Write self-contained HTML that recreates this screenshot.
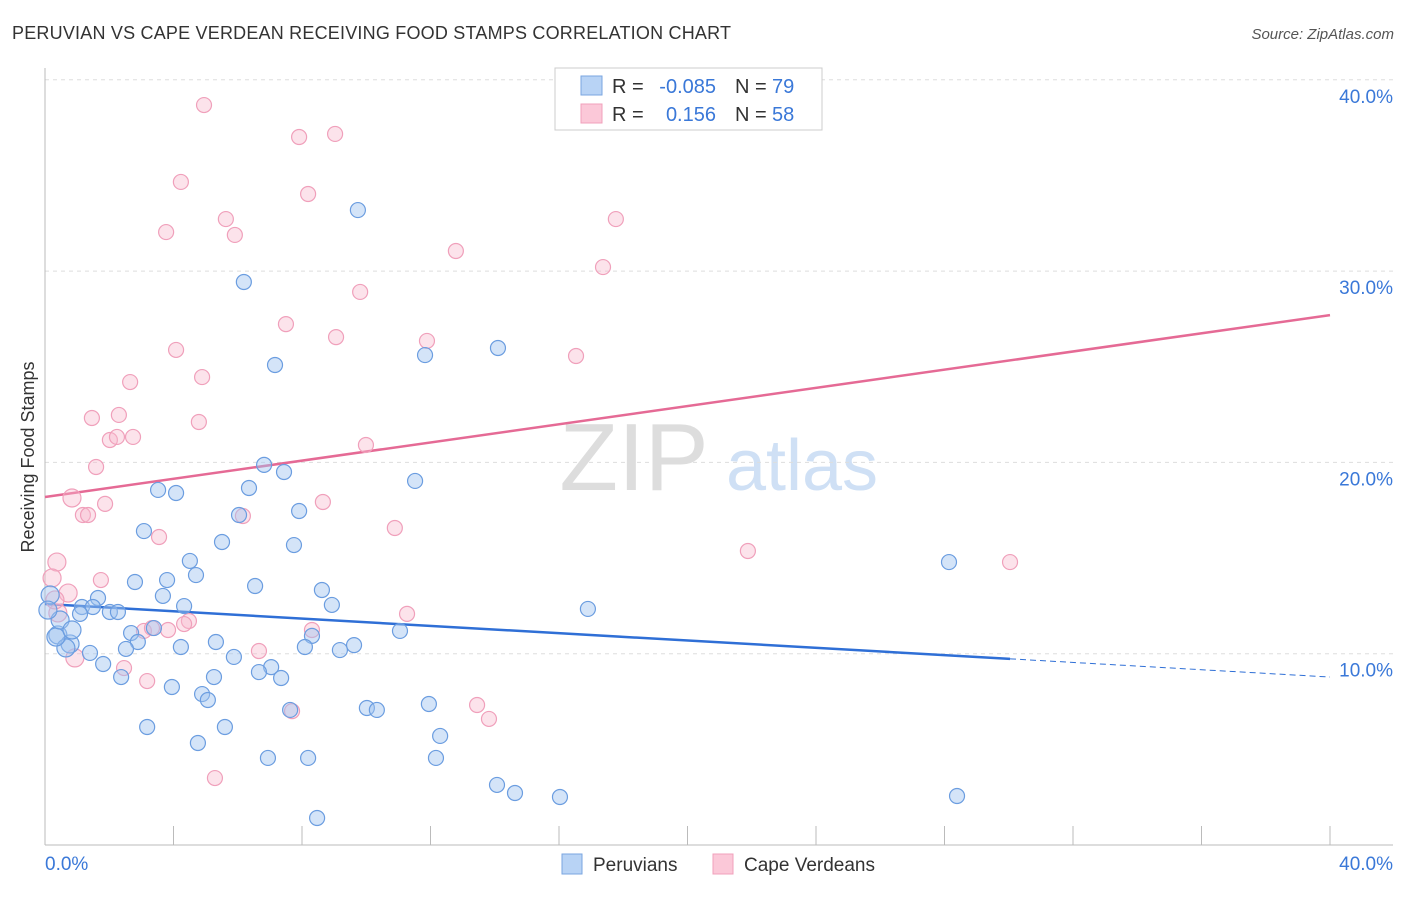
<!DOCTYPE html>
<html><head><meta charset="utf-8"><style>
body{margin:0;background:#fff;font-family:"Liberation Sans",sans-serif;}
svg text{font-family:"Liberation Sans",sans-serif;}
</style></head><body>
<svg id="chart" width="1406" height="892" viewBox="0 0 1406 892" xmlns="http://www.w3.org/2000/svg">
<text x="12" y="39" font-size="18" fill="#333" textLength="719">PERUVIAN VS CAPE VERDEAN RECEIVING FOOD STAMPS CORRELATION CHART</text>
<text x="1394" y="39" font-size="15" fill="#555" text-anchor="end" font-style="italic">Source: ZipAtlas.com</text>
<g>
<text x="634" y="490" font-size="96" fill="#ddd" text-anchor="middle" font-family="Liberation Serif">ZIP</text>
<text x="802" y="490" font-size="72" fill="#cfe0f5" text-anchor="middle">atlas</text>
</g>
<g id="grid"></g>
<g id="axes"></g>
<text transform="translate(34,457) rotate(-90)" font-size="18" fill="#333" text-anchor="middle">Receiving Food Stamps</text>
<g id="lines"></g>
<g id="points"></g>
<g>
<rect x="555" y="68" width="267" height="62" fill="#fff" stroke="#ccc"/>
<rect x="581" y="76" width="21" height="19" fill="#b8d3f5" stroke="#7aa6e0"/>
<rect x="581" y="104" width="21" height="19" fill="#fbc8d8" stroke="#f0a0bb"/>
<text x="612" y="93" font-size="20" fill="#333">R =</text>
<text x="716" y="93" font-size="20" fill="#3a78d8" text-anchor="end">-0.085</text>
<text x="735" y="93" font-size="20" fill="#333">N =</text>
<text x="772" y="93" font-size="20" fill="#3a78d8">79</text>
<text x="612" y="121" font-size="20" fill="#333">R =</text>
<text x="716" y="121" font-size="20" fill="#3a78d8" text-anchor="end">0.156</text>
<text x="735" y="121" font-size="20" fill="#333">N =</text>
<text x="772" y="121" font-size="20" fill="#3a78d8">58</text>
</g>
<g>
<rect x="562" y="854" width="20" height="20" fill="#b8d3f5" stroke="#7aa6e0"/>
<text x="593" y="871" font-size="19" fill="#333">Peruvians</text>
<rect x="713" y="854" width="20" height="20" fill="#fbc8d8" stroke="#f0a0bb"/>
<text x="744" y="871" font-size="19" fill="#333">Cape Verdeans</text>
</g>
</svg>
<script>
const yTicks=[10,20,30,40];
const yTickLabels=["10.0%","20.0%","30.0%","40.0%"];
const xTickLabels=["0.0%","40.0%"];
const blueX=[9.74,6.19,7.16,11.83,14.10,6.82,7.44,11.52,3.52,4.08,6.35,6.04,7.91,3.08,5.51,7.75,4.51,4.70,3.80,2.80,6.54,8.62,3.67,1.65,4.33,8.93,16.90,1.15,1.49,2.02,2.27,1.09,3.39,2.68,11.05,2.89,0.40,5.32,8.31,9.62,4.23,2.52,8.09,9.18,0.78,0.65,1.40,5.88,1.81,7.04,6.66,7.35,5.26,2.37,3.95,4.89,5.07,11.95,10.02,10.33,7.63,3.18,5.60,12.30,4.76,6.94,8.19,12.17,14.07,14.63,16.03,28.39,8.47,28.14,0.16,0.34,0.47,0.09,0.84];
const blueY=[33.19,29.43,25.09,25.61,25.98,19.87,19.50,19.03,18.56,18.40,18.66,17.25,17.46,16.41,15.84,15.68,14.85,14.11,13.85,13.75,13.54,13.33,13.02,12.91,12.49,12.55,12.34,12.44,12.44,12.18,12.18,12.08,11.34,11.08,11.19,10.61,10.98,10.61,10.93,10.45,10.35,10.25,10.35,10.19,10.51,10.30,10.04,9.83,9.46,9.30,9.04,8.73,8.78,8.78,8.26,7.89,7.58,7.37,7.16,7.06,7.06,6.17,6.17,5.70,5.33,4.55,4.55,4.55,3.14,2.72,2.51,2.56,1.41,14.79,13.07,10.87,11.76,12.28,11.24];
const pinkX=[4.95,9.03,7.91,4.23,8.19,5.63,17.77,3.77,5.91,12.79,17.37,9.81,7.50,9.06,11.89,4.08,16.53,4.89,2.65,1.46,2.30,4.79,2.02,2.24,2.74,9.99,1.59,0.84,1.87,8.65,1.18,1.34,6.16,10.89,3.55,21.88,30.04,0.37,1.74,0.22,0.72,11.27,0.40,4.48,3.08,3.33,3.83,4.33,8.31,6.66,0.93,2.46,3.18,13.45,13.82,7.69,5.29,0.31];
const pinkY=[38.68,37.17,37.01,34.66,34.03,32.72,32.72,32.04,31.89,31.05,30.21,28.91,27.23,26.55,26.35,25.88,25.56,24.46,24.20,22.32,22.48,22.11,21.17,21.33,21.33,20.91,19.76,18.14,17.83,17.93,17.25,17.25,17.20,16.57,16.10,15.37,14.79,14.79,13.85,13.96,13.17,12.08,12.13,11.71,11.19,11.34,11.24,11.55,11.24,10.14,9.78,9.25,8.57,7.32,6.59,7.00,3.50,12.81];
const blueTrend=[12.60,8.78]; const blueSolidEnd=30.04;
const pinkTrend=[18.19,27.7];
const NS="http://www.w3.org/2000/svg";
const X=v=>45+v/40*1285, Y=v=>845-v/10*191.3;
function mk(tag,attrs,parent){const e=document.createElementNS(NS,tag);for(const k in attrs)e.setAttribute(k,attrs[k]);document.getElementById(parent).appendChild(e);return e;}
yTicks.forEach((t,i)=>{
 const g=mk('line',{x1:45,x2:1393,y1:Y(t),y2:Y(t),stroke:'#ddd','stroke-dasharray':'4,4'},'grid');
 
 
 const l=mk('text',{x:1393,y:Y(t)+23,'font-size':19,fill:'#3a78d8','text-anchor':'end'},'grid');
 l.textContent=yTickLabels[i];
 
 
});
mk('line',{x1:45,x2:45,y1:68,y2:845,stroke:'#bbb'},'axes');
mk('line',{x1:45,x2:1393,y1:845,y2:845,stroke:'#bbb'},'axes');
for(let i=0;i<=10;i++){const t=mk('line',{x1:X(i*4),x2:X(i*4),y1:826,y2:845,stroke:'#bbb'},'axes');}
[[0,'start',45],[40,'end',1393]].forEach((d,i)=>{const t=mk('text',{x:d[2],y:870,'font-size':19,fill:'#3a78d8','text-anchor':d[1]},'axes');t.textContent=xTickLabels[i];});
const bAt=x=>blueTrend[0]+(blueTrend[1]-blueTrend[0])*x/40;
let e=mk('line',{x1:X(0),y1:Y(bAt(0)),x2:X(blueSolidEnd),y2:Y(bAt(blueSolidEnd)),stroke:'#2f6fd6','stroke-width':2.5},'lines');


e=mk('line',{x1:X(blueSolidEnd),y1:Y(bAt(blueSolidEnd)),x2:X(40),y2:Y(bAt(40)),stroke:'#2f6fd6','stroke-width':1,'stroke-dasharray':'6,4'},'lines');


e=mk('line',{x1:X(0),y1:Y(pinkTrend[0]),x2:X(40),y2:Y(pinkTrend[1]),stroke:'#e56a95','stroke-width':2.5},'lines');


function pts(xs,ys,fill,stroke,name){xs.forEach((x,i)=>{const c=mk('circle',{cx:X(x),cy:Y(ys[i]),r:(x<1?9:7.5),fill:fill,stroke:stroke,'stroke-width':1.2},'points');});}
pts(pinkX,pinkY,'rgba(248,185,205,0.4)','#f0a0bb','cape-verdean-point');
pts(blueX,blueY,'rgba(160,195,240,0.45)','#6b9de0','peruvian-point');
</script>
</body></html>
